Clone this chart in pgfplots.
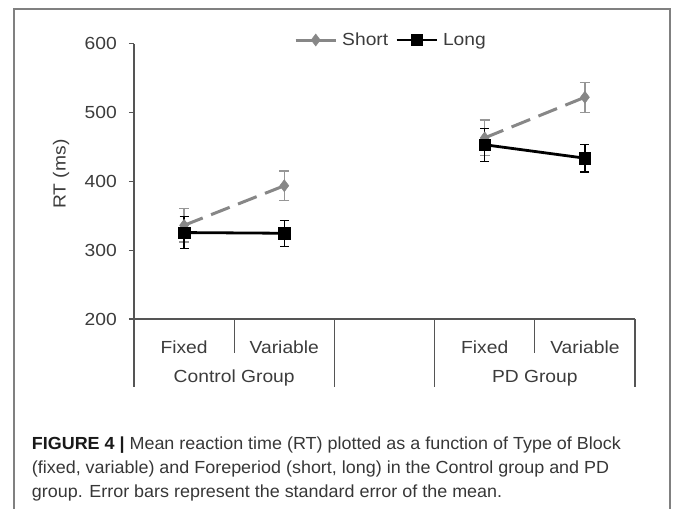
\documentclass[border=0pt]{standalone}
\usepackage{pgfplots}
\pgfplotsset{compat=1.18}
\usepackage{fontspec}
\setmainfont{Liberation Sans}
\newfontfamily\chartfont[FakeStretch=1.1]{Liberation Sans}
\newfontfamily\capfont[FakeStretch=1.025]{Liberation Sans}
\definecolor{txt}{RGB}{60,60,60}
\definecolor{axc}{RGB}{85,85,85}
\definecolor{shortc}{RGB}{135,135,135}
\definecolor{shorteb}{RGB}{150,150,150}
\definecolor{borderc}{RGB}{128,128,128}
\definecolor{captxt}{RGB}{55,55,55}
\newcommand{\cf}{\chartfont\fontsize{17.5}{21}\selectfont}
\begin{document}
\begin{tikzpicture}
\useasboundingbox (0pt,0pt) rectangle (673pt,509pt);
\fill[white] (0pt,0pt) rectangle (673pt,509pt);
\draw[borderc, line width=1.5pt] (14pt,-3pt) -- (14pt,500pt) -- (670pt,500pt) -- (670pt,-3pt);
\begin{axis}[
  at={(134pt,190pt)}, anchor=south west, scale only axis,
  width=501pt, height=275.5pt,
  xmin=-0.5, xmax=4.5, ymin=200, ymax=600,
  axis lines*=left,
  axis line style={axc, line width=1.2pt},
  ytick={200,300,400,500,600},
  tick align=outside, major tick length=5pt,
  ytick style={axc, line width=1.2pt},
  xtick={0,1,3,4}, xticklabels={Fixed,Variable,Fixed,Variable},
  xtick style={draw=none},
  tick label style={font=\cf, text=txt},
  /pgf/number format/assume math mode=true,
  yticklabel style={inner sep=0pt, anchor=east, xshift=-12pt},
  xticklabel style={inner sep=0pt, anchor=base, yshift=-29.6pt},
  ylabel={RT (ms)},
  ylabel style={font=\cf, text=txt, at={(axis description cs:-0.1457,0.526)}, anchor=center},
  clip=false,
  legend columns=2,
  legend style={at={(axis description cs:0.3194,1.0127)}, anchor=west, draw=none, fill=none,
    inner sep=0pt, font=\cf, text=txt, column sep=5pt,
    nodes={inner sep=0pt},
    /tikz/every even column/.append style={column sep=7pt}},
  legend image code/.code={\draw[mark repeat=2,mark phase=2,#1,solid] plot coordinates {(0pt,0pt) (20pt,0pt) (40pt,0pt)};},
]
% Short foreperiod
\addplot[shortc, line width=3pt, dash pattern=on 20pt off 9pt,
  mark=diamond*, mark size=6pt, mark options={solid, fill=shortc, draw=shortc, line width=0.5pt},
  error bars/.cd, y dir=both, y explicit,
  error bar style={shorteb, line width=1.3pt, solid},
  error mark options={shorteb, line width=1.3pt, mark size=5pt, rotate=90}]
  coordinates {(0,336) +- (0,24) (1,393.5) +- (0,21.5)};
\addlegendentry{Short}
\addplot[shortc, line width=3pt, dash pattern=on 20pt off 9pt, forget plot,
  mark=diamond*, mark size=6pt, mark options={solid, fill=shortc, draw=shortc, line width=0.5pt},
  error bars/.cd, y dir=both, y explicit,
  error bar style={shorteb, line width=1.3pt, solid},
  error mark options={shorteb, line width=1.3pt, mark size=5pt, rotate=90}]
  coordinates {(3,463) +- (0,26) (4,522) +- (0,21.7)};
% Long foreperiod
\addplot[black, line width=2.8pt,
  mark=square*, mark size=5.7pt, mark options={solid, fill=black, line width=0.5pt},
  error bars/.cd, y dir=both, y explicit,
  error bar style={black, line width=1.3pt},
  error mark options={black, line width=1.3pt, mark size=4.5pt, rotate=90}]
  coordinates {(0,325.5) +- (0,23) (1,324.5) +- (0,19)};
\addlegendentry{Long}
\addplot[black, line width=2.8pt, forget plot,
  mark=square*, mark size=5.7pt, mark options={solid, fill=black, line width=0.5pt},
  error bars/.cd, y dir=both, y explicit,
  error bar style={black, line width=1.3pt},
  error mark options={black, line width=1.3pt, mark size=4.5pt, rotate=90}]
  coordinates {(3,453) +- (0,24) (4,433.5) +- (0,20)};
% category separators
\draw[axc, line width=1.2pt] (axis cs:-0.5,200) -- ([yshift=-68pt]axis cs:-0.5,200);
\draw[axc, line width=1.2pt] (axis cs:0.5,200) -- ([yshift=-34pt]axis cs:0.5,200);
\draw[axc, line width=1.2pt] (axis cs:1.5,200) -- ([yshift=-68pt]axis cs:1.5,200);
\draw[axc, line width=1.2pt] (axis cs:2.5,200) -- ([yshift=-68pt]axis cs:2.5,200);
\draw[axc, line width=1.2pt] (axis cs:3.5,200) -- ([yshift=-34pt]axis cs:3.5,200);
\draw[axc, line width=1.2pt] (axis cs:4.5,200) -- ([yshift=-68pt]axis cs:4.5,200);
\node[anchor=base, inner sep=0pt, font=\cf, text=txt, yshift=-63.3pt] at (axis cs:0.5,200) {Control Group};
\node[anchor=base, inner sep=0pt, font=\cf, text=txt, yshift=-63.3pt] at (axis cs:3.5,200) {PD Group};
\end{axis}
\begin{scope}[every node/.style={anchor=base west, inner sep=0pt, font=\capfont\fontsize{17.5}{20}\selectfont, text=captxt}]
\node at (31.7pt,59pt) {{\bfseries\color{black!90}FIGURE 4 |} Mean reaction time (RT) plotted as a function of Type of Block};
\node at (31.7pt,35pt) {(fixed, variable) and Foreperiod (short, long) in the Control group and PD};
\node at (31.7pt,11pt) {group. Error bars represent the standard error of the mean.};
\end{scope}
\end{tikzpicture}
\end{document}
